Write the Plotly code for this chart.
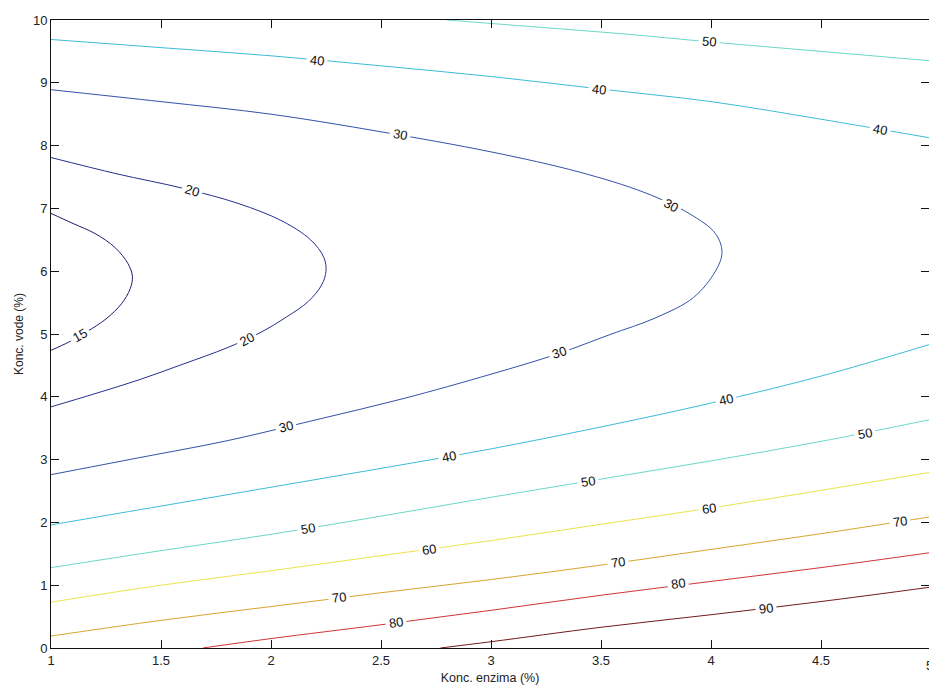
import plotly.graph_objects as go

# ---- contour lines (x = Konc. enzima, y = Konc. vode) ----
x15 = [1.00, 1.10, 1.20, 1.29, 1.35, 1.37, 1.36, 1.32, 1.25, 1.16, 1.08, 1.00]
y15 = [6.92, 6.76, 6.60, 6.38, 6.12, 5.92, 5.72, 5.48, 5.24, 5.03, 4.87, 4.74]

x20 = [1.00, 1.30, 1.60, 1.85, 2.05, 2.18, 2.24, 2.25, 2.23, 2.17, 2.07, 1.95, 1.80, 1.60, 1.40, 1.20, 1.00]
y20 = [7.81, 7.55, 7.32, 7.08, 6.80, 6.50, 6.22, 6.00, 5.78, 5.52, 5.27, 5.02, 4.78, 4.52, 4.27, 4.05, 3.84]

x30 = [1.00, 1.50, 2.00, 2.50, 3.00, 3.40, 3.70, 3.90, 4.02, 4.05, 4.02, 3.92, 3.75, 3.54, 3.30, 3.00, 2.60, 2.20, 1.80, 1.40, 1.00]
y30 = [8.89, 8.70, 8.50, 8.22, 7.90, 7.58, 7.25, 6.92, 6.60, 6.30, 6.00, 5.58, 5.26, 4.99, 4.68, 4.36, 3.97, 3.63, 3.30, 3.03, 2.76]

x40_top = [1.00, 1.50, 2.00, 2.50, 3.00, 3.50, 4.00, 4.50, 5.00]
y40_top = [9.69, 9.56, 9.43, 9.27, 9.10, 8.90, 8.70, 8.42, 8.12]

x40_low = [1.00, 1.50, 2.00, 2.50, 3.00, 3.50, 4.00, 4.50, 5.00]
y40_low = [1.96, 2.26, 2.56, 2.86, 3.17, 3.52, 3.90, 4.33, 4.84]

x50_top = [2.80, 3.20, 3.60, 4.00, 4.50, 5.00]
y50_top = [10.0, 9.89, 9.78, 9.65, 9.50, 9.35]

x50_low = [1.00, 1.50, 2.00, 2.50, 3.00, 3.50, 4.00, 4.50, 5.00]
y50_low = [1.28, 1.55, 1.81, 2.10, 2.40, 2.69, 2.98, 3.29, 3.64]

x60 = [1.00, 1.50, 2.00, 2.50, 3.00, 3.50, 4.00, 4.50, 5.00]
y60 = [0.73, 1.00, 1.23, 1.47, 1.71, 1.97, 2.23, 2.51, 2.80]

x70 = [1.00, 1.50, 2.00, 2.50, 3.00, 3.50, 4.00, 4.50, 5.00]
y70 = [0.19, 0.44, 0.66, 0.88, 1.09, 1.32, 1.57, 1.82, 2.09]

x80 = [1.69, 2.00, 2.50, 3.00, 3.50, 4.00, 4.50, 5.00]
y80 = [0.00, 0.15, 0.37, 0.60, 0.84, 1.06, 1.28, 1.52]

x90 = [2.77, 3.00, 3.50, 4.00, 4.50, 5.00]
y90 = [0.00, 0.10, 0.33, 0.53, 0.74, 0.97]

# contour label values and where they sit
label_values = [15, 20, 20, 30, 30, 30, 30, 40, 40, 40, 40, 40, 50, 50, 50, 50, 60, 60, 70, 70, 70, 80, 80, 90]
label_x = [1.13, 1.64, 1.89, 2.585, 3.82, 3.31, 2.07, 2.21, 3.49, 4.77, 2.81, 4.07, 3.99, 2.17, 3.44, 4.70, 2.72, 3.99, 2.31, 3.575, 4.86, 2.57, 3.85, 4.25]
label_y = [4.97, 7.28, 4.91, 8.17, 7.05, 4.71, 3.52, 9.36, 8.90, 8.26, 3.05, 3.96, 9.65, 1.90, 2.65, 3.41, 1.57, 2.22, 0.80, 1.36, 2.01, 0.40, 1.03, 0.63]
label_angle = [-30, 17, -28, 10, 27, -18, -14, 6, 6, 10, -11, -13, 5, -10, -9, -10, -8, -8, -7, -8, -8, -8, -8, -7]

x_ticks = [1, 1.5, 2, 2.5, 3, 3.5, 4, 4.5]
x_tick_text = ["1", "1.5", "2", "2.5", "3", "3.5", "4", "4.5"]
y_ticks = [0, 1, 2, 3, 4, 5, 6, 7, 8, 9, 10]

# ---- styles ----
level_colors = {
    15: "#1c1c70", 20: "#26308c", 30: "#3452a8", 40: "#3cbcd8", 50: "#6cd8c6",
    60: "#ece34e", 70: "#d6a630", 80: "#d03434", 90: "#741a1a",
}

lines = [
    (15, x15, y15), (20, x20, y20), (30, x30, y30),
    (40, x40_top, y40_top), (40, x40_low, y40_low),
    (50, x50_top, y50_top), (50, x50_low, y50_low),
    (60, x60, y60), (70, x70, y70), (80, x80, y80), (90, x90, y90),
]

fig = go.Figure()
for lvl, xs, ys in lines:
    fig.add_trace(go.Scatter(
        x=xs, y=ys, mode="lines",
        line=dict(color=level_colors[lvl], width=1, shape="spline", smoothing=1.0),
        showlegend=False, hoverinfo="skip",
    ))

# invisible trace to carry the right-hand tick axis
fig.add_trace(go.Scatter(x=[1], y=[0], yaxis="y2", mode="markers",
                         marker=dict(opacity=0), showlegend=False, hoverinfo="skip"))

FONT = "Liberation Sans, Arial, Helvetica, sans-serif"

for v, lx, ly, ang in zip(label_values, label_x, label_y, label_angle):
    fig.add_annotation(
        x=lx, y=ly, xref="x", yref="y", text=str(v), showarrow=False,
        textangle=ang, bgcolor="white", borderpad=3,
        font=dict(family=FONT, size=13, color="#111111"),
    )

L, T, B, R = 51, 20, 41, 0
W, H = 929, 689
px_per_x = 220.0
plot_w = W - L - R
x_end = 1 + plot_w / px_per_x

# partially visible tick label "5" at the right border
fig.add_annotation(
    x=(5 - 1) * px_per_x / plot_w - 0.002, y=-0.012, xref="paper", yref="paper",
    text="5", showarrow=False, yanchor="top", xanchor="center",
    font=dict(family=FONT, size=13, color="#222222"),
)

fig.update_layout(
    width=W, height=H,
    margin=dict(l=L, r=R, t=T, b=B, autoexpand=False),
    paper_bgcolor="white", plot_bgcolor="white",
    font=dict(family=FONT, size=13, color="#222222"),
    xaxis=dict(
        range=[1, x_end], tickvals=x_ticks, ticktext=x_tick_text, automargin=False,
        ticks="inside", ticklen=8, tickwidth=1, tickcolor="#111111",
        showline=True, linecolor="#111111", linewidth=1, mirror="ticks",
        showgrid=False, zeroline=False,
        title=dict(text="Konc. enzima (%)", font=dict(size=12.5, family=FONT, color="#222222"), standoff=6),
        tickfont=dict(size=13, family=FONT, color="#222222"),
    ),
    yaxis=dict(
        range=[0, 10], tickvals=y_ticks, automargin=False,
        ticks="inside", ticklen=8, tickwidth=1, tickcolor="#111111",
        showline=True, linecolor="#111111", linewidth=1, mirror=False,
        showgrid=False, zeroline=False,
        title=dict(text="Konc. vode (%)", font=dict(size=12, family=FONT, color="#222222"), standoff=6),
        tickfont=dict(size=13, family=FONT, color="#222222"),
    ),
    yaxis2=dict(
        range=[0, 10], tickvals=y_ticks, overlaying="y", side="right", automargin=False,
        ticks="inside", ticklen=8, tickwidth=1, tickcolor="#111111",
        showline=False, showticklabels=False, showgrid=False, zeroline=False,
    ),
)

fig.write_html(
    "out.html",
    config={"displayModeBar": False},
    post_script="document.body.style.margin='0';document.body.style.overflow='hidden';",
)
